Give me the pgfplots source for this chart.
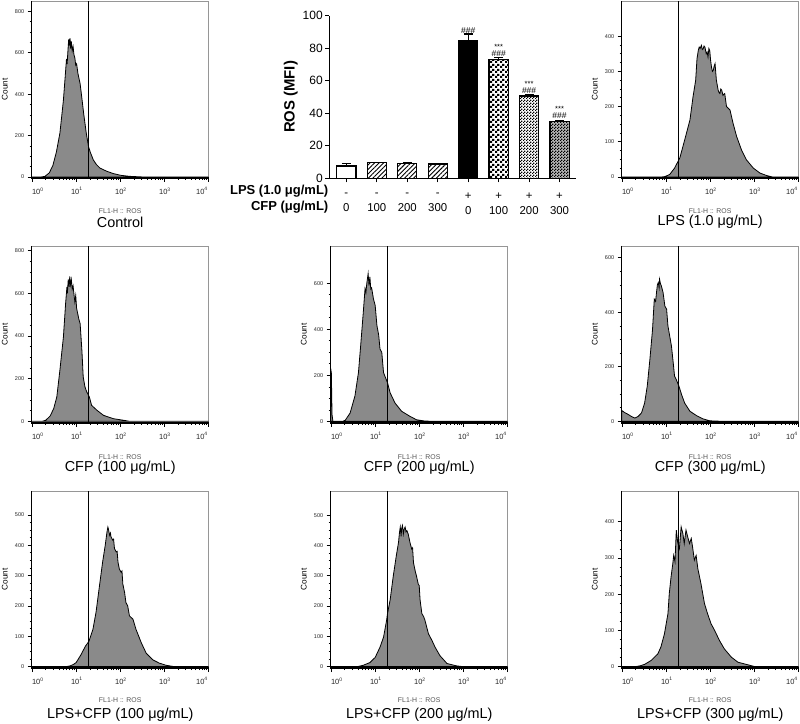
\documentclass[border=0pt]{standalone}
\usepackage{fontspec}
\setmainfont{Liberation Sans}
\usepackage{pgfplots}
\pgfplotsset{compat=1.18}
\usetikzlibrary{patterns,patterns.meta}

\definecolor{histfill}{RGB}{138,138,138}
\definecolor{framegray}{RGB}{150,150,150}
\definecolor{flgray}{RGB}{85,85,85}

% decade tick labels in text font
\newcommand{\dec}[1]{10\raisebox{0.5em}{\fontsize{5}{5}\selectfont #1}}

\pgfdeclarepatternformonly{bigcheck}{\pgfpointorigin}{\pgfqpoint{5pt}{5pt}}{\pgfqpoint{5pt}{5pt}}{%
  \pgfpathrectangle{\pgfpointorigin}{\pgfqpoint{2.5pt}{2.5pt}}%
  \pgfpathrectangle{\pgfqpoint{2.5pt}{2.5pt}}{\pgfqpoint{2.5pt}{2.5pt}}%
  \pgfusepath{fill}}
\pgfdeclarepatternformonly{smallcheck}{\pgfpointorigin}{\pgfqpoint{2.6pt}{2.6pt}}{\pgfqpoint{2.6pt}{2.6pt}}{%
  \pgfpathrectangle{\pgfpointorigin}{\pgfqpoint{1.3pt}{1.3pt}}%
  \pgfpathrectangle{\pgfqpoint{1.3pt}{1.3pt}}{\pgfqpoint{1.3pt}{1.3pt}}%
  \pgfusepath{fill}}

\pgfplotsset{
  hist/.style={
    anchor=south west, scale only axis, width=177pt, height=177pt,
    xmin=-0.02, xmax=4,
    xtick={0,1,2,3,4},
    % end labels nudged inwards, as in the flow software
    xticklabels={\hspace*{10pt}\dec{0},\dec{1},\dec{2},\dec{3},\dec{4}\hspace*{14pt}},
    minor xtick={0.301,0.477,0.602,0.699,0.778,0.845,0.903,0.954,
      1.301,1.477,1.602,1.699,1.778,1.845,1.903,1.954,
      2.301,2.477,2.602,2.699,2.778,2.845,2.903,2.954,
      3.301,3.477,3.602,3.699,3.778,3.845,3.903,3.954},
    minor y tick num=3,
    tick align=outside, xtick pos=bottom, ytick pos=left,
    major tick length=4pt, minor tick length=2pt,
    every tick/.style={black, line width=0.7pt},
    axis line style={framegray, line width=0.8pt},
    /pgf/number format/assume math mode=true,
    xticklabel style={font=\fontsize{7.5}{8}\selectfont, text=black!85, yshift=-2pt},
    yticklabel style={font=\fontsize{5.5}{6}\selectfont, text=black!85},
  },
  histline/.style={draw=black, line width=0.8pt, fill=histfill},
  gate/.style={black, line width=1.1pt},
  barbase/.style={ybar, bar width=0.63, bar shift=0pt, draw=black, line width=1.2pt,
    error bars/y dir=plus, error bars/y explicit,
    error bars/error bar style={black, line width=1.2pt},
    error bars/error mark options={rotate=90, mark size=4.5pt, line width=1.2pt, black}},
}

% frame, y label, x label and title round a histogram
\newcommand{\histtext}[4]{%
  \draw[black, line width=1.1pt] (#1.north west) -- (#1.south west) -- (#1.south east);
  \path (#1.west) ++(-27pt,0) node[rotate=90, font=\fontsize{8.2}{9}\selectfont] {Count};
  \path (#1.south) ++(0,-#3) node[text=flgray, font=\fontsize{6.9}{7}\selectfont] {FL1-H :: ROS};
  \path (#1.south) ++(0,-#4) node[font=\fontsize{14.4}{16}\selectfont] {#2};
}

\begin{document}
\begin{tikzpicture}
\useasboundingbox (0,0) rectangle (800pt,723pt);

% ---- row 1, left: Control
\begin{axis}[hist, name=h1, at={(31.7pt,545pt)}, ymin=-5, ymax=850, ytick={0,200,400,600,800}]
\addplot[histline] coordinates {
(-0.02,0)(0.2,0)(0.28,3)(0.38,20)(0.46,55)(0.54,120)(0.62,211)(0.66,290)(0.70,371)(0.74,483)
(0.77,570)(0.785,545)(0.80,600)(0.82,665)(0.835,635)(0.85,670)(0.865,620)(0.88,655)(0.90,610)
(0.92,630)(0.94,590)(0.96,575)(0.98,540)(1.00,547)(1.03,500)(1.08,450)(1.12,380)(1.16,307)
(1.22,211)(1.27,147)(1.31,120)(1.38,82)(1.45,60)(1.53,43)(1.69,27)(1.84,16)(2.0,8)(2.2,3)(2.5,0)(4,0)
} \closedcycle;
\addplot[gate] coordinates {(1.28,-5)(1.28,850)};
\end{axis}
\histtext{h1}{Control}{33pt}{44pt}

% ---- row 1, right: LPS
\begin{axis}[hist, name=h2, at={(621.7pt,545pt)}, ymin=-3, ymax=500, ytick={0,100,200,300,400}]
\addplot[histline] coordinates {
(-0.02,0)(0.9,0)(0.96,1)(1.07,7)(1.18,25)(1.30,54)(1.41,105)(1.53,162)(1.60,228)(1.66,275)
(1.69,336)(1.72,360)(1.74,369)(1.76,365)(1.79,374)(1.81,362)(1.83,364)(1.85,372)(1.87,369)
(1.90,350)(1.92,355)(1.94,341)(1.96,365)(1.98,359)(2.00,330)(2.02,312)(2.04,300)(2.06,303)
(2.08,315)(2.10,322)(2.13,275)(2.17,247)(2.19,240)(2.21,237)(2.23,250)(2.25,247)(2.28,232)
(2.30,235)(2.32,237)(2.36,200)(2.44,190)(2.51,152)(2.59,115)(2.70,77)(2.81,49)(2.97,25)
(3.12,11)(3.27,4)(3.4,0)(4,0)
} \closedcycle;
\addplot[gate] coordinates {(1.28,-3)(1.28,500)};
\end{axis}
\histtext{h2}{LPS (1.0 μg/mL)}{33pt}{44pt}

% ---- row 2: CFP 100, 200, 300
\begin{axis}[hist, name=h3, at={(31.7pt,300pt)}, ymin=-8, ymax=822, ytick={0,200,400,600,800}]
\addplot[histline] coordinates {
(-0.02,0)(0.22,0)(0.3,5)(0.4,25)(0.48,60)(0.55,114)(0.62,239)(0.70,395)(0.75,552)(0.78,630)
(0.79,600)(0.81,665)(0.83,630)(0.845,680)(0.86,640)(0.88,665)(0.90,620)(0.92,635)(0.94,595)
(0.96,560)(0.98,590)(1.0,530)(1.05,480)(1.08,458)(1.12,333)(1.15,208)(1.19,161)(1.23,138)
(1.29,114)(1.34,75)(1.46,52)(1.61,28)(1.84,12)(2.06,5)(2.2,0)(4,0)
} \closedcycle;
\addplot[gate] coordinates {(1.28,-8)(1.28,822)};
\end{axis}
\histtext{h3}{CFP (100 μg/mL)}{34pt}{45pt}

\begin{axis}[hist, name=h4, at={(330.7pt,300pt)}, ymin=-7, ymax=762, ytick={0,200,400,600}]
\addplot[histline] coordinates {
(-0.02,230)(-0.005,210)(0.01,30)(0.03,0)(0.25,0)(0.31,5)(0.42,36)(0.53,110)(0.61,212)(0.66,328)
(0.72,474)(0.76,577)(0.78,560)(0.80,600)(0.83,642)(0.85,590)(0.87,628)(0.89,575)(0.91,580)
(0.95,533)(0.99,504)(1.03,416)(1.07,375)(1.10,314)(1.14,300)(1.18,212)(1.21,197)(1.27,168)
(1.33,124)(1.44,80)(1.59,44)(1.78,22)(1.93,7)(2.1,2)(2.3,0)(4,0)
} \closedcycle;
\addplot[gate] coordinates {(1.28,-7)(1.28,762)};
\end{axis}
\histtext{h4}{CFP (200 μg/mL)}{34pt}{45pt}

\begin{axis}[hist, name=h5, at={(621.7pt,300pt)}, ymin=-6, ymax=643, ytick={0,200,400,600}]
\addplot[histline] coordinates {
(-0.02,40)(0.05,32)(0.1,28)(0.2,18)(0.28,12)(0.35,18)(0.43,31)(0.5,67)(0.56,129)(0.62,227)
(0.68,337)(0.72,448)(0.75,440)(0.77,472)(0.79,500)(0.81,509)(0.83,490)(0.84,521)(0.86,505)
(0.88,497)(0.92,472)(0.96,423)(1.0,411)(1.03,350)(1.07,313)(1.11,276)(1.15,215)(1.18,166)
(1.22,153)(1.28,129)(1.34,98)(1.41,67)(1.53,37)(1.68,21)(1.83,9)(1.98,2)(2.3,0)(4,0)
} \closedcycle;
\addplot[gate] coordinates {(1.28,-6)(1.28,643)};
\end{axis}
\histtext{h5}{CFP (300 μg/mL)}{34pt}{45pt}

% ---- row 3: LPS + CFP 100, 200, 300
\begin{axis}[hist, name=h6, at={(31.7pt,55pt)}, ymin=-5, ymax=579, ytick={0,100,200,300,400,500}]
\addplot[histline] coordinates {
(-0.02,0)(0.78,0)(0.85,2)(0.92,6)(0.99,13)(1.10,39)(1.20,67)(1.28,83)(1.37,122)(1.44,178)
(1.52,267)(1.59,344)(1.65,400)(1.69,444)(1.71,460)(1.72,455)(1.74,440)(1.75,433)(1.77,440)
(1.78,428)(1.82,417)(1.84,420)(1.86,389)(1.90,378)(1.92,380)(1.94,344)(1.97,322)(2.01,311)
(2.03,315)(2.05,272)(2.09,244)(2.12,211)(2.16,200)(2.20,167)(2.28,156)(2.35,122)(2.47,78)
(2.58,44)(2.73,22)(2.88,11)(3.03,4)(3.2,0)(4,0)
} \closedcycle;
\addplot[gate] coordinates {(1.28,-5)(1.28,579)};
\end{axis}
\histtext{h6}{LPS+CFP (100 μg/mL)}{32pt}{47pt}

\begin{axis}[hist, name=h7, at={(330.7pt,55pt)}, ymin=-5, ymax=580, ytick={0,100,200,300,400,500}]
\addplot[histline] coordinates {
(-0.02,0)(0.6,0)(0.72,4)(0.87,13)(0.99,30)(1.10,64)(1.18,97)(1.25,153)(1.27,175)(1.33,220)
(1.40,298)(1.47,366)(1.52,410)(1.54,440)(1.56,461)(1.58,430)(1.59,455)(1.61,466)(1.63,438)
(1.65,455)(1.67,461)(1.69,445)(1.71,449)(1.74,438)(1.78,410)(1.82,388)(1.84,392)(1.86,343)
(1.90,315)(1.93,298)(1.97,271)(1.99,268)(2.01,220)(2.05,175)(2.09,165)(2.12,153)(2.20,108)
(2.28,86)(2.35,64)(2.46,36)(2.62,10)(2.84,2)(2.96,0)(4,0)
} \closedcycle;
\addplot[gate] coordinates {(1.28,-5)(1.28,580)};
\end{axis}
\histtext{h7}{LPS+CFP (200 μg/mL)}{32pt}{47pt}

\begin{axis}[hist, name=h8, at={(621.7pt,55pt)}, ymin=-4, ymax=485, ytick={0,100,200,300,400}]
\addplot[histline] coordinates {
(-0.02,0)(0.3,0)(0.40,2)(0.50,6)(0.65,17)(0.80,35)(0.87,54)(0.95,90)(1.03,146)(1.06,201)
(1.10,247)(1.14,284)(1.16,307)(1.19,290)(1.22,377)(1.25,344)(1.29,326)(1.33,386)(1.37,367)
(1.40,340)(1.44,377)(1.48,358)(1.52,340)(1.56,354)(1.59,330)(1.63,294)(1.67,307)(1.71,270)
(1.78,229)(1.86,174)(1.93,146)(2.01,118)(2.09,100)(2.20,72)(2.31,49)(2.47,26)(2.62,12)
(2.84,5)(3.0,0)(4,0)
} \closedcycle;
\addplot[gate] coordinates {(1.28,-4)(1.28,485)};
\end{axis}
\histtext{h8}{LPS+CFP (300 μg/mL)}{32pt}{47pt}

% ---- row 1, middle: bar chart of ROS (MFI)
\begin{axis}[
  name=bar, at={(329.3pt,544.7pt)}, anchor=south west,
  scale only axis, width=247pt, height=162.6pt,
  xmin=0.44, xmax=8.55, ymin=0, ymax=100,
  axis x line*=bottom, axis y line*=left,
  axis line style={black, line width=1.4pt},
  ytick={0,20,40,60,80,100},
  xtick={1,2,3,4,5,6,7,8},
  xticklabels={{-\\0},{-\\100},{-\\200},{-\\300},{+\\0},{+\\100},{+\\200},{+\\300}},
  tick align=outside, major tick length=4pt,
  every tick/.style={black, line width=1.2pt},
  /pgf/number format/assume math mode=true,
  yticklabel style={font=\fontsize{12}{13}\selectfont, xshift=1pt},
  xticklabel style={font=\fontsize{11.4}{15}\selectfont, align=center, yshift=-7pt},
]
\addplot[barbase, fill=white] coordinates {(1,7.6) +- (0,1.6)};
\addplot[barbase, pattern={Lines[angle=45, distance=3.2pt, line width=0.9pt]}] coordinates {(2,9.6) +- (0,0.3)};
\addplot[barbase, pattern={Lines[angle=45, distance=3.2pt, line width=0.9pt]}] coordinates {(3,9.0) +- (0,0.6)};
\addplot[barbase, pattern={Lines[angle=45, distance=3.2pt, line width=0.9pt]}] coordinates {(4,8.8) +- (0,0.4)};
\addplot[barbase, fill=black] coordinates {(5,84.7) +- (0,4.1)};
\addplot[barbase, fill=white, postaction={pattern=bigcheck}] coordinates {(6,73.2) +- (0,1.0)};
\addplot[barbase, fill=white, postaction={pattern=smallcheck}] coordinates {(7,50.6) +- (0,0.8)};
\addplot[barbase, fill=gray!55, postaction={pattern=smallcheck}] coordinates {(8,34.8) +- (0,0.8)};
\node[font=\fontsize{8.5}{8.5}\selectfont, inner sep=0pt] at (axis cs:5,91) {\#\#\#};
\node[font=\fontsize{8.5}{8.5}\selectfont, inner sep=0pt] at (axis cs:6,76.8) {\#\#\#};
\node[font=\fontsize{8.5}{8.5}\selectfont, inner sep=0pt] at (axis cs:7,54.2) {\#\#\#};
\node[font=\fontsize{8.5}{8.5}\selectfont, inner sep=0pt] at (axis cs:8,38.8) {\#\#\#};
\node[font=\fontsize{7.5}{7.5}\selectfont, inner sep=0pt] at (axis cs:6,80.8) {***};
\node[font=\fontsize{7.5}{7.5}\selectfont, inner sep=0pt] at (axis cs:7,58.2) {***};
\node[font=\fontsize{7.5}{7.5}\selectfont, inner sep=0pt] at (axis cs:8,42.8) {***};
\end{axis}
\node[rotate=90, font=\bfseries\fontsize{14.9}{16}\selectfont] at (290.7pt,626pt) {ROS (MFI)};
\node[anchor=east, inner sep=0pt, font=\bfseries\fontsize{13}{14}\selectfont] at (328.5pt,532pt) {LPS (1.0 μg/mL)};
\node[anchor=east, inner sep=0pt, font=\bfseries\fontsize{13}{14}\selectfont] at (328.5pt,515.5pt) {CFP (μg/mL)};

\end{tikzpicture}
\end{document}
